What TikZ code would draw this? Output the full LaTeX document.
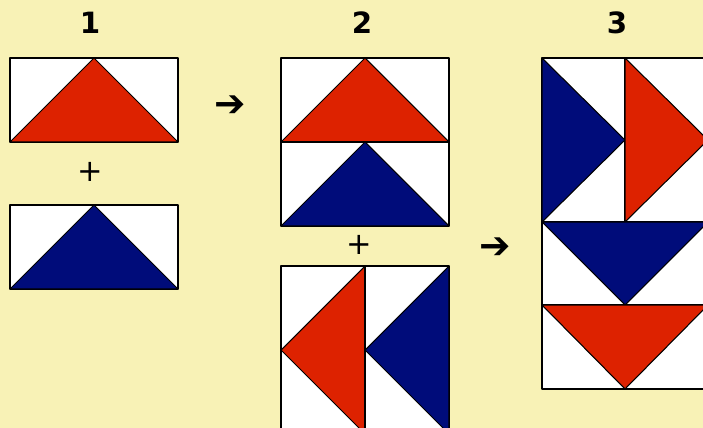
\documentclass[tikz,border=0pt]{standalone}
\usepackage{fontspec}
\setmainfont{DejaVu Sans}
\definecolor{paper}{RGB}{248,242,182}
\definecolor{qred}{RGB}{221,34,0}
\definecolor{qblue}{RGB}{0,12,122}
\begin{document}
\begin{tikzpicture}[x=0.03cm, y=-0.03cm,
  patch/.style={draw=black, line width=0.9pt, line join=round},
  numlabel/.style={font=\fontsize{25}{25}\selectfont\bfseries},
  joinsign/.style={font=\fontsize{26}{26}\selectfont},
  stepsign/.style={font=\fontsize{32}{32}\selectfont\bfseries}]
\fill[paper] (0,0) rectangle (703,428);
\useasboundingbox (0,0) rectangle (703,428);
\clip (0,0) rectangle (703,428);

\node[numlabel] (n1) at (90,23) {1};
\node[numlabel] (n2) at (362,23) {2};
\node[numlabel] (n3) at (617,23) {3};
\node[joinsign] (p1) at (90,172) {+};
\node[joinsign] (p2) at (359,245) {+};
\node[stepsign] (a1) at (230,106) {➔};
\node[stepsign] (a2) at (495,248) {➔};

% step 1
\draw[patch, fill=white] (10,58) rectangle (178,142);
\draw[patch, fill=qred] (10,142) -- (94,58) -- (178,142) -- cycle;
\draw[patch, fill=white] (10,205) rectangle (178,289);
\draw[patch, fill=qblue] (10,289) -- (94,205) -- (178,289) -- cycle;

% step 2
\draw[patch, fill=white] (281,58) rectangle (449,142);
\draw[patch, fill=qred] (281,142) -- (365,58) -- (449,142) -- cycle;
\draw[patch, fill=white] (281,142) rectangle (449,226);
\draw[patch, fill=qblue] (281,226) -- (365,142) -- (449,226) -- cycle;
\draw[patch, fill=white] (281,266) rectangle (365,434);
\draw[patch, fill=qred] (365,266) -- (281,350) -- (365,434) -- cycle;
\draw[patch, fill=white] (365,266) rectangle (449,434);
\draw[patch, fill=qblue] (449,266) -- (365,350) -- (449,434) -- cycle;

% step 3
\draw[patch, fill=white] (542,58) rectangle (625,222);
\draw[patch, fill=qblue] (542,58) -- (625,140) -- (542,222) -- cycle;
\draw[patch, fill=white] (625,58) rectangle (708,222);
\draw[patch, fill=qred] (625,58) -- (708,140) -- (625,222) -- cycle;
\draw[patch, fill=white] (542,222) rectangle (708,305);
\draw[patch, fill=qblue] (542,222) -- (708,222) -- (625,305) -- cycle;
\draw[patch, fill=white] (542,305) rectangle (708,389);
\draw[patch, fill=qred] (542,305) -- (708,305) -- (625,389) -- cycle;
\end{tikzpicture}
\end{document}
